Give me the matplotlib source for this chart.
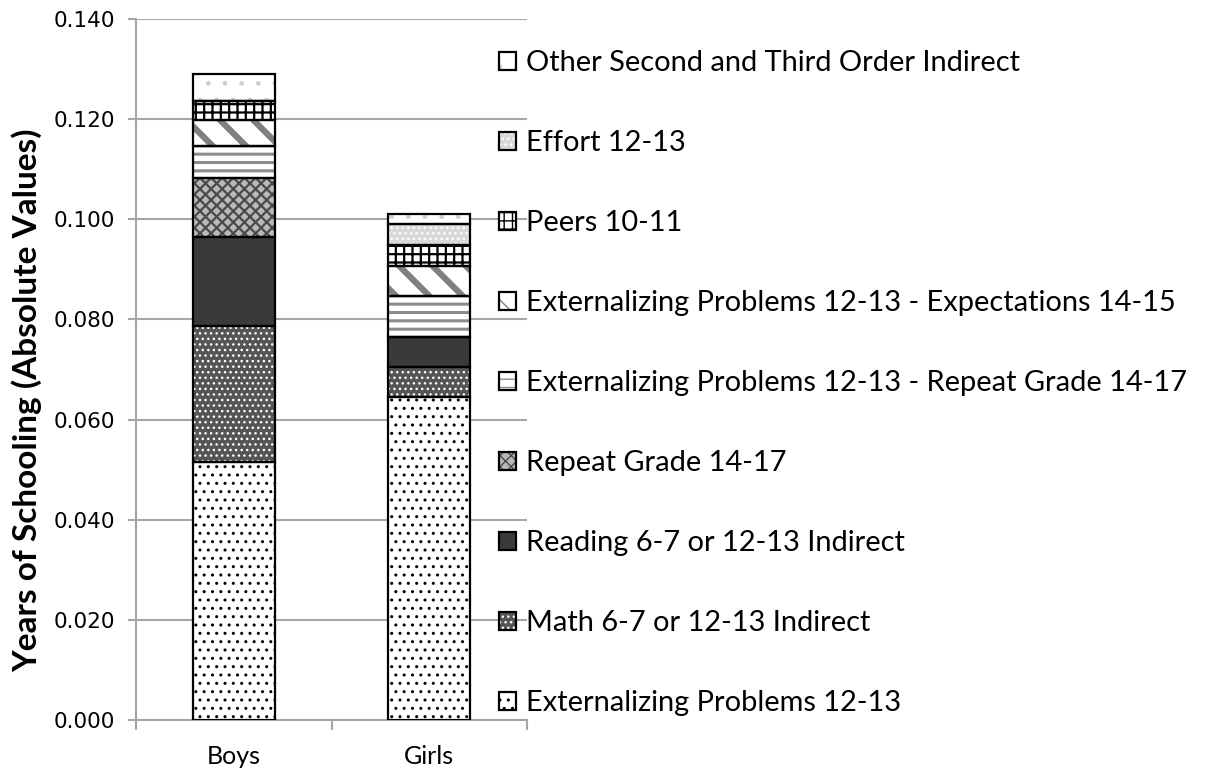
import matplotlib
matplotlib.use("Agg")
import matplotlib.pyplot as plt
import numpy as np

# ---------------- data ----------------
groups = ["Boys", "Girls"]
series_labels = [
    "Externalizing Problems 12-13",
    "Math 6-7 or 12-13 Indirect",
    "Reading 6-7 or 12-13 Indirect",
    "Repeat Grade 14-17",
    "Externalizing Problems 12-13 - Repeat Grade 14-17",
    "Externalizing Problems 12-13 - Expectations 14-15",
    "Peers 10-11",
    "Effort 12-13",
    "Other Second and Third Order Indirect",
]
boys_values = [0.0515, 0.0272, 0.0178, 0.0117, 0.0064, 0.0052, 0.0038, 0.0000, 0.0054]
girls_values = [0.0645, 0.0060, 0.0060, 0.0000, 0.0082, 0.0060, 0.0042, 0.0042, 0.0020]
yticks = [0.000, 0.020, 0.040, 0.060, 0.080, 0.100, 0.120, 0.140]

# ---------------- styles (face, hatch, hatch colour, hatch lw) ----------------
styles = [
    ("white", "..", "black", 1.0),
    ("#555555", "...", "white", 1.0),
    ("#3a3a3a", "", "#3a3a3a", 1.0),
    ("#b8b8b8", "xxx", "#4a4a4a", 1.6),
    ("white", "--", "#8c8c8c", 2.2),
    ("white", "\\", "#808080", 4.5),
    ("white", "++", "black", 1.6),
    ("#d9d9d9", "...", "white", 1.0),
    ("white", ".", "#d0d0d0", 1.0),
]

W, H = 1206, 770
fig = plt.figure(figsize=(W / 100, H / 100), dpi=100)
ax = fig.add_axes([136 / W, 1 - 720 / H, (527 - 136) / W, (720 - 19) / H])

grid_col = "#a6a6a6"
x = np.arange(len(groups))
width = 0.42
data = np.array([boys_values, girls_values]).T  # series x groups
bottom = np.zeros(len(groups))
handles = []
for i, (lab, vals) in enumerate(zip(series_labels, data)):
    fc, hatch, hc, hlw = styles[i]
    with plt.rc_context({"hatch.linewidth": hlw}):
        fill = ax.bar(x, vals, width, bottom=bottom, color=fc, edgecolor=hc,
                      hatch=hatch if hatch else None, linewidth=0, zorder=3)
        for p in fill.patches:
            if hasattr(p, "set_hatch_linewidth"):
                p.set_hatch_linewidth(hlw)
    outline = ax.bar(x, vals, width, bottom=bottom, facecolor="none",
                     edgecolor="black", linewidth=1.6, zorder=4)
    handles.append((fill.patches[0], outline.patches[0]))
    bottom = bottom + vals

ax.set_xlim(-0.5, 1.5)
ax.set_ylim(0, 0.140)
ax.set_yticks(yticks)
ax.set_yticklabels([f"{v:.3f}" for v in yticks], fontfamily="DejaVu Sans", fontsize=15.5)
ax.set_xticks(x)
ax.set_xticklabels(groups, fontfamily="Lato", fontsize=18)
ax.set_xticks([-0.5, 0.5, 1.5], minor=True)
ax.tick_params(axis="x", which="major", length=0, pad=18)
ax.tick_params(axis="x", which="minor", length=7.5, width=1.5, color=grid_col, direction="out")
ax.tick_params(axis="y", length=6, width=1.5, color=grid_col, pad=9)
ax.yaxis.grid(True, color=grid_col, linewidth=1.5, zorder=0)
ax.set_axisbelow(True)
for s in ["top", "right"]:
    ax.spines[s].set_visible(False)
for s in ["left", "bottom"]:
    ax.spines[s].set_color(grid_col)
    ax.spines[s].set_linewidth(1.5)

ylab = ax.set_ylabel("Years of Schooling (Absolute Values)", fontfamily="Lato",
                     fontweight="bold", fontsize=24)
ax.yaxis.set_label_coords(-0.24, 0.456)

leg = fig.legend(handles[::-1], series_labels[::-1], loc="upper left",
                 bbox_to_anchor=(499 / W, 1 - 50 / H), frameon=False,
                 prop={"family": "Lato", "size": 20.9},
                 handlelength=0.58, handleheight=0.58, handletextpad=0.35,
                 labelspacing=1.86, borderpad=0, borderaxespad=0)

# centre the y-label at the reference position (400 px from top)
fig.canvas.draw()
r = fig.canvas.get_renderer()
bb = ylab.get_window_extent(r)
ax_bb = ax.get_window_extent(r)
shift = ((H - 400) - (bb.y0 + bb.y1) / 2) / ax_bb.height
ax.yaxis.set_label_coords(-0.24, 0.456 + shift)

fig.savefig("out.png", dpi=100)
